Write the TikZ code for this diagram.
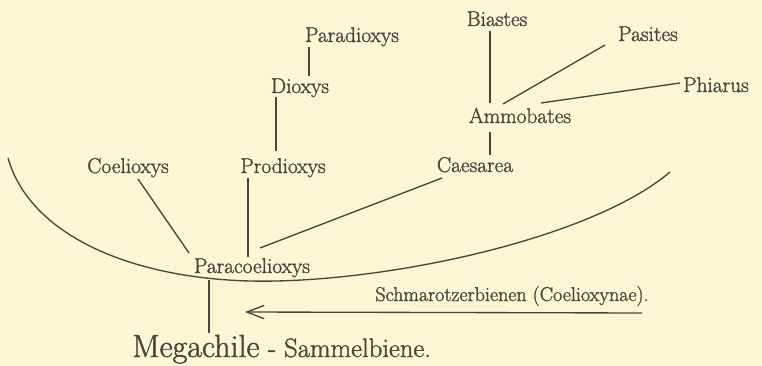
\documentclass[tikz,border=0pt]{standalone}
\usepackage{tikz}
\usepackage{fontspec}
\usetikzlibrary{arrows.meta, positioning, calc}
\newfontfamily\inkfont{Latin Modern Roman}[FakeBold=1.4]
\definecolor{paper}{RGB}{250,247,212}
\definecolor{ink}{RGB}{72,70,58}

\begin{document}
\begin{tikzpicture}[
        x=0.75pt, y=-0.75pt,
        taxon/.style={anchor=base, inner sep=0pt, text=ink, font=\inkfont\fontsize{16}{19}\selectfont},
        note/.style={inner sep=0pt, text=ink, font=\inkfont\fontsize{15}{18}\selectfont},
        twig/.style={draw=ink, line width=1pt}
    ]
        \fill[paper] (0,0) rectangle (762,366);
        \useasboundingbox (0,0) rectangle (762,366);

        % Dioxys line
        \node[taxon] (parad) at (352,42) {Paradioxys};
        \node[taxon] (diox) at (300,93) {Dioxys};
        \node[taxon] (prod) at (283,173) {Prodioxys};

        % Ammobates group
        \node[taxon] (biast) at (497,26) {Biastes};
        \node[taxon] (pas) at (648,41) {Pasites};
        \node[taxon] (phia) at (716,92) {Phiarus};
        \node[taxon] (ammo) at (520,123) {Ammobates};
        \node[taxon] (caes) at (475,172) {Caesarea};

        % Root
        \node[taxon] (coel) at (128,173) {Coelioxys};
        \node[taxon] (para) at (252,273) {Paracoelioxys};
        \node[taxon, font=\inkfont\fontsize{24}{28}\selectfont] (mega) at (196,357) {Megachile};
        \node[text=ink, inner sep=0pt, font=\inkfont\fontsize{20}{24}\selectfont, base right=6pt of mega] (sammel) {- Sammelbiene.};

        % Legend
        \node[note, anchor=base] (schm) at (512,301) {Schmarotzerbienen (Coelioxynae).};
        \coordinate (tip) at (245,312);

        % Parasite boundary
        \draw[twig] (8,158) .. controls (30,235) and (130,278) .. (250,281)
            .. controls (380,284) and (590,240) .. (670,172);

        % Branches
        \foreach \a/\ax/\ay/\b/\bx/\by in {coel/10/6/para/-63/-20, prod/-35/5/para/-4/-16,
            caes/-33/6/para/8/-25, diox/-24/4/prod/-7/-22, parad/-43/5/diox/9/-17,
            biast/-7/5/ammo/-30/-20, ammo/-30/9/caes/15/-17,
            ammo/-17/-19/pas/-43/4, ammo/21/-20/phia/-36/-9, para/-43/7/mega/13/-24} {
            \draw[twig] ($(\a.base)+(\ax,\ay)$) -- ($(\b.base)+(\bx,\by)$);
        }
        \draw[twig, -{Straight Barb[length=13pt, width=10pt]}] ($(schm.base)+(130,12)$) -- (tip);

    \end{tikzpicture}
\end{document}
